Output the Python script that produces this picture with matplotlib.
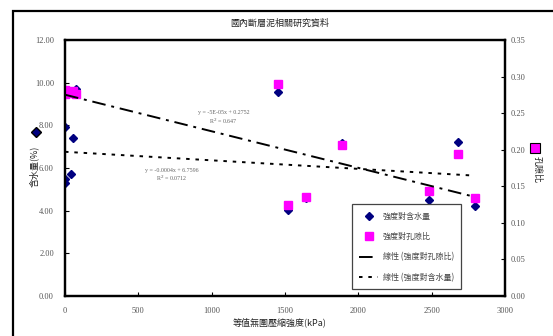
import matplotlib
matplotlib.use("Agg")
import matplotlib.pyplot as plt
from matplotlib.lines import Line2D
from matplotlib.patches import Rectangle
import numpy as np

# Unconfined compressive strength (kPa) with water content (%) and void ratio
strength = [0, 0, 0, 40, 55, 75, 1450, 1520, 1640, 1890, 2480, 2680, 2795]
water = [5.3, 5.5, 7.9, 5.7, 7.4, 9.7, 9.55, 4.05, 4.6, 7.15, 4.5, 7.2, 4.22]
void_ratio = [0.276, 0.279, 0.281, 0.277, 0.280, 0.276, 0.290, 0.124, 0.135,
              0.207, 0.143, 0.194, 0.134]

# Linear trend coefficients (slope, intercept, R^2)
void_fit = (-5e-05, 0.2752, 0.647)
water_fit = (-0.0004, 6.7596, 0.0712)

x_ticks = [0, 500, 1000, 1500, 2000, 2500, 3000]
left_ticks = [0, 2, 4, 6, 8, 10, 12]
right_ticks = [0, 0.05, 0.10, 0.15, 0.20, 0.25, 0.30, 0.35]

title = "國內斷層泥相關研究資料"
xlabel = "等值無圍壓縮強度(kPa)"
ylabel_left = "含水量(%)"
ylabel_right = "孔隙比"
legend_labels = ["強度對含水量", "強度對孔隙比", "線性 (強度對孔隙比)", "線性 (強度對含水量)"]

cjk = ["Noto Sans CJK TC", "DejaVu Sans"]
serif = ["Liberation Serif", "DejaVu Serif"]
tick_color = "#555555"
navy = "#000080"
pink = "#FF00FF"

fig = plt.figure(figsize=(5.53, 3.36), dpi=100)
fig.patches.append(Rectangle((13 / 553, -0.1), 1.2, 1 - 11 / 336 + 0.1,
                             transform=fig.transFigure, fill=False,
                             edgecolor="black", linewidth=1.6))

ax = fig.add_axes([65 / 553, 1 - 296 / 336, 440 / 553, 256 / 336])
ax2 = ax.twinx()

ax.set_xlim(0, 3000)
ax.set_ylim(0, 12)
ax2.set_ylim(0, 0.35)

ax.set_xticks(x_ticks)
ax.set_xticklabels([str(v) for v in x_ticks])
ax.set_yticks(left_ticks)
ax.set_yticklabels([f"{v:.2f}" for v in left_ticks])
ax2.set_yticks(right_ticks)
ax2.set_yticklabels([f"{v:.2f}" for v in right_ticks])

for a in (ax, ax2):
    for s in a.spines.values():
        s.set_linewidth(1.6)
    a.tick_params(direction="in", length=3, width=0.8, colors="black",
                  labelcolor=tick_color, labelsize=6)
    for lab in a.get_xticklabels() + a.get_yticklabels():
        lab.set_family(serif)
ax.tick_params(axis="x", pad=8)
ax.tick_params(axis="y", pad=8)
ax2.tick_params(axis="y", pad=4)

# Scatter series
ax2.plot(strength, void_ratio, linestyle="none", marker="s", markersize=5.5,
         color=pink, zorder=2)
ax.plot(strength, water, linestyle="none", marker="D", markersize=4,
        color=navy, zorder=2)

# Trend lines from the fitted coefficients
xf = np.array([0, max(strength)])
ax2.plot(xf, void_fit[0] * xf + void_fit[1], color="black", linewidth=1.4,
         dashes=(7, 3, 1.5, 3), zorder=3)
ax.plot(xf, water_fit[0] * xf + water_fit[1], color="black", linewidth=1.4,
        dashes=(1.8, 3), zorder=3)

eq_kw = dict(fontsize=4.3, color="#666666", ha="center", va="center",
             family=serif)
ax2.text(1080, 0.251, "y = -5E-05x + 0.2752", **eq_kw)
ax2.text(1080, 0.239, "R$^2$ = 0.647", **eq_kw)
ax.text(730, 5.9, "y = -0.0004x + 6.7596", **eq_kw)
ax.text(730, 5.5, "R$^2$ = 0.0712", **eq_kw)

# Legend
handles = [
    Line2D([], [], linestyle="none", marker="D", markersize=4, color=navy),
    Line2D([], [], linestyle="none", marker="s", markersize=5.5, color=pink),
    Line2D([], [], color="black", linewidth=1.4, dashes=(7, 3, 1.5, 3)),
    Line2D([], [], color="black", linewidth=1.4, dashes=(1.8, 3)),
]
leg = ax.legend(handles, legend_labels, loc="lower left",
                bbox_to_anchor=(352 / 553, 1 - 289 / 336, 109 / 553, 83 / 336),
                bbox_transform=fig.transFigure, mode="expand",
                prop={"family": cjk, "size": 5.8}, labelcolor="#444444",
                frameon=True, fancybox=False, framealpha=1, edgecolor="#444444",
                handlelength=2.3, handletextpad=0.6, labelspacing=1.4,
                borderpad=0.9, borderaxespad=0)
leg.get_frame().set_linewidth(0.9)
leg.set_zorder(5)

# Titles and axis labels
fig.text(280 / 553, 1 - 23 / 336, title, family=cjk, fontsize=6.5,
         ha="center", va="center", color="#222222")
fig.text(280 / 553, 1 - 322 / 336, xlabel, family=cjk, fontsize=6.5,
         ha="center", va="center", color="#222222")
fig.text(34 / 553, 1 - 166 / 336, ylabel_left, family=cjk, fontsize=6.5,
         ha="center", va="center", rotation=90, color="#222222")
fig.text(537 / 553, 1 - 169 / 336, ylabel_right, family=cjk, fontsize=6.5,
         ha="center", va="center", rotation=-90, color="#222222")

# Series keys beside the axis titles
fig.lines.append(Line2D([36 / 553], [1 - 132 / 336], transform=fig.transFigure,
                        linestyle="none", marker="D", markersize=5.5,
                        color=navy, markeredgecolor="black"))
fig.lines.append(Line2D([535 / 553], [1 - 148 / 336], transform=fig.transFigure,
                        linestyle="none", marker="s", markersize=6.5,
                        color=pink, markeredgecolor="black",
                        markeredgewidth=0.8))

fig.savefig("out.png", dpi=100)
